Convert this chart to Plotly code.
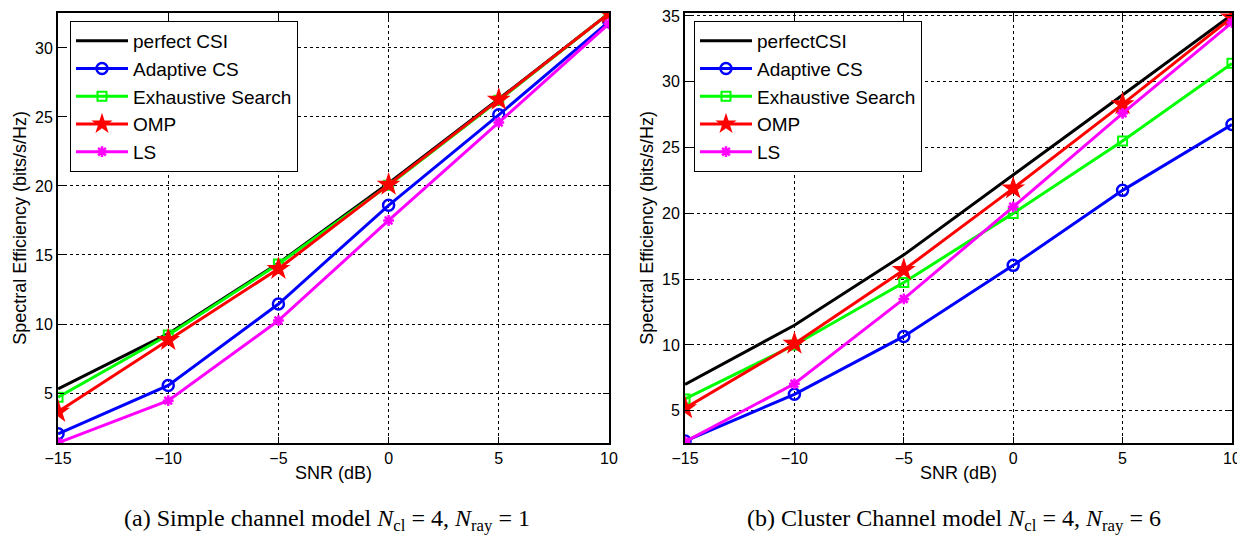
import plotly.graph_objects as go

snr = [-15, -10, -5, 0, 5, 10]

# (a) simple channel model
perfect_a = [5.3, 9.3, 14.4, 20.2, 26.3, 32.5]
adaptive_a = [2.05, 5.55, 11.45, 18.6, 25.15, 31.9]
exhaustive_a = [4.7, 9.2, 14.35, 20.05, 26.2, 32.5]
omp_a = [3.65, 8.85, 14.0, 20.1, 26.25, 32.5]
ls_a = [1.4, 4.45, 10.25, 17.5, 24.6, 31.75]

# (b) cluster channel model
perfect_b = [7.0, 11.5, 16.85, 22.9, 29.0, 35.1]
adaptive_b = [2.7, 6.25, 10.65, 16.05, 21.75, 26.75]
exhaustive_b = [5.9, 10.0, 14.75, 20.0, 25.5, 31.4]
omp_b = [5.2, 10.1, 15.7, 21.9, 28.3, 34.9]
ls_b = [2.65, 7.05, 13.5, 20.5, 27.6, 34.5]

names_a = ["perfect CSI", "Adaptive CS", "Exhaustive Search", "OMP", "LS"]
names_b = ["perfectCSI", "Adaptive CS", "Exhaustive Search", "OMP", "LS"]

styles = [
    dict(color="black", mode="lines", marker=None),
    dict(color="#0000ff", mode="lines+markers",
         marker=dict(symbol="circle-open", size=11, line=dict(width=2.5))),
    dict(color="#00ff00", mode="lines+markers",
         marker=dict(symbol="square-open", size=9, line=dict(width=2))),
    dict(color="#ff0000", mode="lines+markers",
         marker=dict(symbol="star", size=18, line=dict(width=0))),
    dict(color="#ff00ff", mode="lines+markers",
         marker=dict(symbol="asterisk-open", size=9, line=dict(width=2.5))),
]

fig = go.Figure()

series_a = [perfect_a, adaptive_a, exhaustive_a, omp_a, ls_a]
series_b = [perfect_b, adaptive_b, exhaustive_b, omp_b, ls_b]

for name, ys, st in zip(names_a, series_a, styles):
    m = dict(st["marker"]) if st["marker"] else {}
    m["color"] = st["color"]
    fig.add_trace(go.Scatter(x=snr, y=ys, name=name, mode=st["mode"],
                             line=dict(color=st["color"], width=3),
                             marker=m, xaxis="x", yaxis="y", legend="legend"))

for name, ys, st in zip(names_b, series_b, styles):
    m = dict(st["marker"]) if st["marker"] else {}
    m["color"] = st["color"]
    fig.add_trace(go.Scatter(x=snr, y=ys, name=name, mode=st["mode"],
                             line=dict(color=st["color"], width=3),
                             marker=m, xaxis="x2", yaxis="y2", legend="legend2"))

axis_common = dict(
    showline=True, linecolor="black", linewidth=2, mirror="ticks",
    ticks="inside", ticklen=6, tickwidth=1, tickcolor="black",
    showgrid=True, gridcolor="black", gridwidth=1, griddash="dot",
    zeroline=False, automargin=False, ticklabeloverflow="allow",
    tickfont=dict(family="Liberation Sans", size=16, color="black"),
)

xt = dict(text="SNR (dB)", font=dict(family="Liberation Sans", size=18, color="black"), standoff=0)
yt = dict(text="Spectral Efficiency (bits/s/Hz)",
          font=dict(family="Liberation Sans", size=18, color="black"), standoff=4)

legend_common = dict(
    bgcolor="white", bordercolor="black", borderwidth=1,
    font=dict(family="Liberation Sans", size=19, color="black"),
    xanchor="left", yanchor="top", tracegroupgap=0, itemwidth=52,
)

# page body has an 8px margin, so positions below are shifted by it
fig.update_layout(
    width=1245, height=540,
    margin=dict(l=0, r=0, t=0, b=0, autoexpand=False),
    paper_bgcolor="white", plot_bgcolor="white",
    xaxis=dict(domain=[0.0402, 0.4827], range=[-15, 10], tickvals=[-15, -10, -5, 0, 5, 10],
               title=xt, anchor="y", **axis_common),
    yaxis=dict(domain=[0.1944, 0.9913], range=[1.38, 32.55], tickvals=[5, 10, 15, 20, 25, 30],
               title=yt, anchor="x", **axis_common),
    xaxis2=dict(domain=[0.5438, 0.9831], range=[-15, 10], tickvals=[-15, -10, -5, 0, 5, 10],
                title=xt, anchor="y2", **axis_common),
    yaxis2=dict(domain=[0.1944, 0.9913], range=[2.55, 35.25], tickvals=[5, 10, 15, 20, 25, 30, 35],
                title=yt, anchor="x2", **axis_common),
    legend=dict(x=0.0498, y=0.9759, **legend_common),
    legend2=dict(x=0.551, y=0.9759, **legend_common),
)

cap_font = dict(family="Liberation Serif", size=24, color="black")
cap_y = 1 - 512 / 540
fig.add_annotation(text="(a) Simple channel model <i>N</i><sub>cl</sub> = 4, <i>N</i><sub>ray</sub> = 1",
                   x=0.256, y=cap_y, xref="paper", yref="paper", xanchor="center", yanchor="middle",
                   showarrow=False, font=cap_font)
fig.add_annotation(text="(b) Cluster Channel model <i>N</i><sub>cl</sub> = 4, <i>N</i><sub>ray</sub> = 6",
                   x=0.76, y=cap_y, xref="paper", yref="paper", xanchor="center", yanchor="middle",
                   showarrow=False, font=cap_font)

fig.write_html("out.html")
